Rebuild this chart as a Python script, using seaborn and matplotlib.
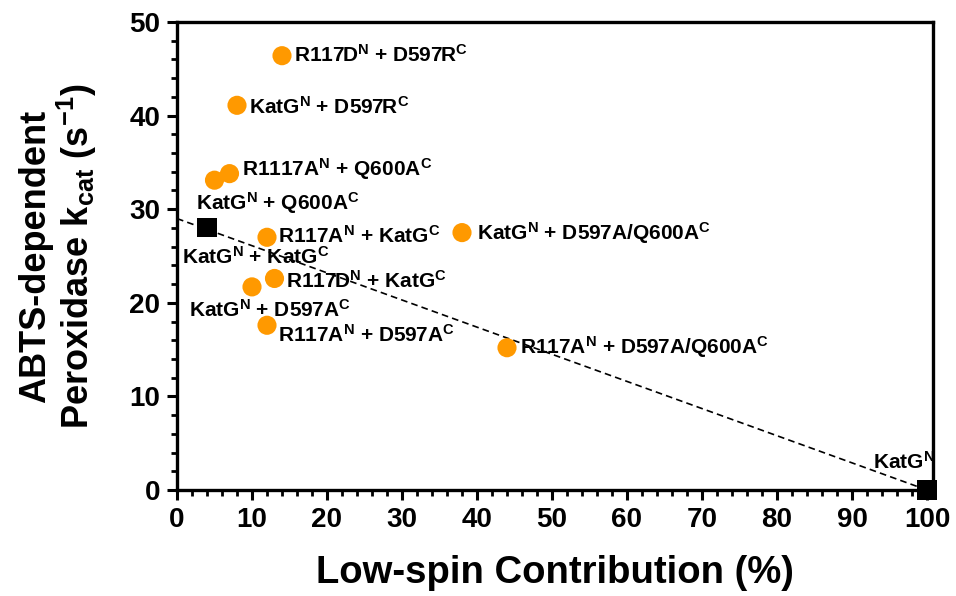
import matplotlib
matplotlib.use("Agg")
import matplotlib.pyplot as plt
import seaborn as sns
import pandas as pd
from matplotlib.ticker import MultipleLocator

# ---- data ----
low_spin = [14, 8, 7, 5, 4, 12, 38, 13, 10, 12, 44, 100]
kcat = [46.4, 41.1, 33.8, 33.1, 28.0, 27.0, 27.5, 22.6, 21.7, 17.6, 15.2, 0.0]
kind = ["variant", "variant", "variant", "variant", "reference", "variant",
        "variant", "variant", "variant", "variant", "variant", "reference"]
labels = [
    r"R117D$^{\mathrm{N}}$ + D597R$^{\mathrm{C}}$",
    r"KatG$^{\mathrm{N}}$ + D597R$^{\mathrm{C}}$",
    r"R1117A$^{\mathrm{N}}$ + Q600A$^{\mathrm{C}}$",
    r"KatG$^{\mathrm{N}}$ + Q600A$^{\mathrm{C}}$",
    r"KatG$^{\mathrm{N}}$ + KatG$^{\mathrm{C}}$",
    r"R117A$^{\mathrm{N}}$ + KatG$^{\mathrm{C}}$",
    r"KatG$^{\mathrm{N}}$ + D597A/Q600A$^{\mathrm{C}}$",
    r"R117D$^{\mathrm{N}}$ + KatG$^{\mathrm{C}}$",
    r"KatG$^{\mathrm{N}}$ + D597A$^{\mathrm{C}}$",
    r"R117A$^{\mathrm{N}}$ + D597A$^{\mathrm{C}}$",
    r"R117A$^{\mathrm{N}}$ + D597A/Q600A$^{\mathrm{C}}$",
    r"KatG$^{\mathrm{N}}$",
]
fit_x = [0, 100]
fit_y = [29.0, 0.0]

x_title = "Low-spin Contribution (%)"
y_title = "ABTS-dependent\n" + r"Peroxidase k$_{\mathrm{cat}}$ (s$^{\mathrm{-1}}$)"

# label offsets (pixels) relative to each point
label_dx = [12, 12, 12, -19, -25, 11, 15, 11, -63, 11, 13, -54]
label_dy = [-6, -8, -2, -30, -36, -6, -7, -9, -30, -17, -6, 21]

df = pd.DataFrame({"x": low_spin, "y": kcat, "kind": kind, "label": labels})

sns.set_style("ticks")
plt.rcParams["font.family"] = ["Liberation Sans", "DejaVu Sans"]
plt.rcParams["font.weight"] = "bold"
plt.rcParams["text.color"] = "black"
plt.rcParams["axes.labelcolor"] = "black"
plt.rcParams["xtick.color"] = "black"
plt.rcParams["ytick.color"] = "black"
plt.rcParams["mathtext.fontset"] = "custom"
plt.rcParams["mathtext.rm"] = "Liberation Sans:bold"
plt.rcParams["mathtext.bf"] = "Liberation Sans:bold"
plt.rcParams["mathtext.it"] = "Liberation Sans:bold"
plt.rcParams["mathtext.default"] = "rm"

fig = plt.figure(figsize=(9.56, 5.96), dpi=100)
ax = fig.add_axes([177 / 956, 1 - 490 / 596, (933 - 177) / 956, (490 - 22) / 596])

sns.lineplot(x=fit_x, y=fit_y, ax=ax, color="black", linestyle=(0, (4, 2.5)),
             linewidth=1.2, zorder=2)
sns.scatterplot(data=df, x="x", y="y", hue="kind", style="kind",
                palette={"variant": "#FF9900", "reference": "#000000"},
                markers={"variant": "o", "reference": "s"},
                s=190, linewidth=0, legend=False, ax=ax, zorder=3, clip_on=False)

for i, row in df.iterrows():
    ax.annotate(row["label"], (row["x"], row["y"]),
                xytext=(label_dx[i], label_dy[i]), textcoords="offset pixels",
                ha="left", va="baseline", fontsize=15, fontweight="bold",
                color="black", zorder=4)

ax.set_xlim(0, 100.8)
ax.set_ylim(0, 50)
ax.xaxis.set_major_locator(MultipleLocator(10))
ax.xaxis.set_minor_locator(MultipleLocator(2))
ax.yaxis.set_major_locator(MultipleLocator(10))
ax.yaxis.set_minor_locator(MultipleLocator(2))

for s in ax.spines.values():
    s.set_linewidth(2.4)
    s.set_color("black")

ax.tick_params(which="major", length=7, width=2.2, labelsize=20, pad=5, direction="out")
ax.tick_params(which="minor", length=4, width=2.0, direction="out")
for lab in ax.get_xticklabels() + ax.get_yticklabels():
    lab.set_fontweight("bold")

ax.set_xlabel(x_title, fontsize=27.5, fontweight="bold", labelpad=16)
ax.set_ylabel(y_title, fontsize=26, fontweight="bold", labelpad=22, linespacing=1.05)

fig.savefig("out.png", dpi=100)
